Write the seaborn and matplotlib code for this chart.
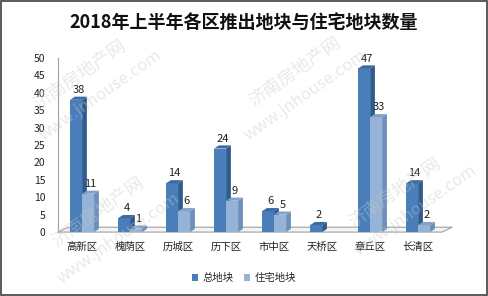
import matplotlib
matplotlib.use('Agg')
import matplotlib.pyplot as plt
import seaborn as sns
import pandas as pd
from matplotlib.patches import Polygon, Rectangle

categories = ['高新区', '槐荫区', '历城区', '历下区', '市中区', '天桥区', '章丘区', '长清区']
total_plots = [38, 4, 14, 24, 6, 2, 47, 14]
residential_plots = [11, 1, 6, 9, 5, 0, 33, 2]
series_names = ['总地块', '住宅地块']
yticks = list(range(0, 51, 5))
title = '2018年上半年各区推出地块与住宅地块数量'

sns.set_theme(style='white')
plt.rcParams['font.family'] = ['Noto Sans CJK SC', 'DejaVu Sans']

df = pd.DataFrame({
    '区域': categories * 2,
    '数量': total_plots + residential_plots,
    '类型': [series_names[0]] * len(categories) + [series_names[1]] * len(categories),
})

colors = ['#4A7EBB', '#95B3D7']
side_colors = ['#2F5C8F', '#6E8FB8']
top_colors = ['#3B6BA3', '#82A2CA']
palette = dict(zip(series_names, colors))

fig = plt.figure(figsize=(4.88, 2.96), dpi=100)
ax = fig.add_axes([0.119, 0.216, 0.787, 0.588])
sns.barplot(data=df, x='区域', y='数量', hue='类型', palette=palette, width=0.5,
            saturation=1, ax=ax, legend=False, order=categories, hue_order=series_names)

ax.set_xlim(-0.5, 7.5)
ax.set_ylim(0, 50)
ax.set_yticks(yticks)
ax.set_xlabel('')
ax.set_ylabel('')

dx, dy = 0.1, 0.9
for i, cont in enumerate(ax.containers):
    for p in cont:
        p.set_zorder(3 + 2 * i)
        p.set_linewidth(0)
        x, w, h = p.get_x(), p.get_width(), p.get_height()
        if h <= 0:
            continue
        side = Polygon([(x + w, 0), (x + w + dx, dy), (x + w + dx, h + dy), (x + w, h)],
                       closed=True, facecolor=side_colors[i], edgecolor='none', zorder=3 + 2 * i)
        top = Polygon([(x, h), (x + dx, h + dy), (x + w + dx, h + dy), (x + w, h)],
                      closed=True, facecolor=top_colors[i], edgecolor='none', zorder=3 + 2 * i)
        ax.add_patch(side)
        ax.add_patch(top)
        ax.text(x + w / 2 + dx / 2, h + dy + 0.5, f'{int(h)}', ha='center', va='bottom',
                fontsize=8, color='#222222', zorder=10)

# floor
fdx, fdy = 0.21, 1.4
floor = Polygon([(-0.5, 0), (7.5, 0), (7.5 + fdx, fdy), (-0.5 + fdx, fdy)], closed=True,
                facecolor='#F4F4F4', edgecolor='#A0A0A0', linewidth=0.8, zorder=1, clip_on=False)
ax.add_patch(floor)

for s in ['top', 'right', 'bottom']:
    ax.spines[s].set_visible(False)
ax.spines['left'].set_color('#A0A0A0')
ax.spines['left'].set_linewidth(0.8)
ax.tick_params(axis='y', length=0, pad=9, labelsize=7.5, labelcolor='#222222')
ax.tick_params(axis='x', length=0, pad=7, labelsize=7.5, labelcolor='#222222')

fig.text(0.5, 0.925, title, ha='center', va='center', fontsize=13, fontweight='bold', color='#111111')

handles = [Rectangle((0, 0), 1, 1, facecolor=c, edgecolor='none') for c in colors]
fig.legend(handles, series_names, loc='center', bbox_to_anchor=(0.5, 0.06), ncol=2, frameon=False,
           fontsize=7.5, handlelength=0.6, handleheight=0.6, handletextpad=0.4, columnspacing=1.0)

# watermarks
wm = [((80, 75), (100, 95)), ((98, 212), (118, 238)), ((295, 72), (305, 95)), ((395, 193), (415, 210))]
for (p1, p2) in wm:
    fig.text(p1[0] / 488, 1 - p1[1] / 296, '济南房地产网', rotation=35, ha='center', va='center',
             fontsize=13, color='#C8C8C8', alpha=0.4, zorder=20)
    fig.text(p2[0] / 488, 1 - p2[1] / 296, 'www.jnhouse.com', rotation=35, ha='center', va='center',
             fontsize=12, color='#C8C8C8', alpha=0.4, zorder=20)

fig.patches.append(Rectangle((0.002, 0.003), 0.996, 0.994, transform=fig.transFigure,
                             fill=False, edgecolor='#404040', linewidth=1.2))

fig.savefig('out.png', dpi=100)
